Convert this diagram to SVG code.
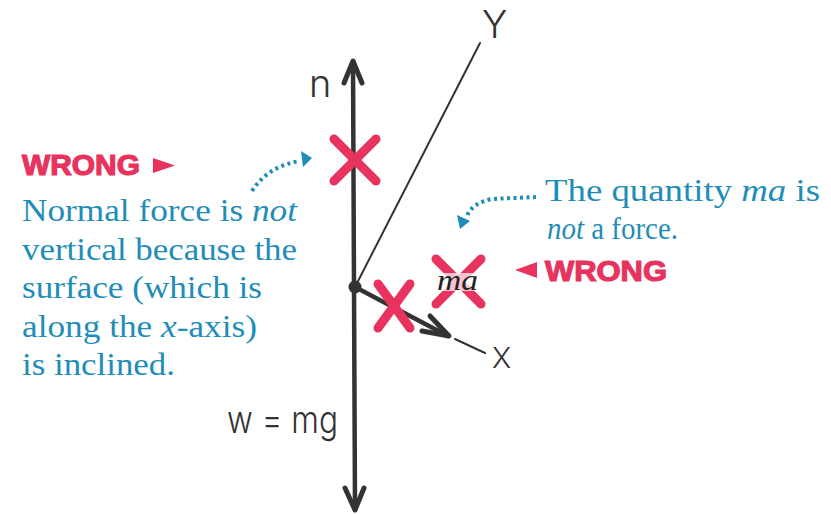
<svg xmlns="http://www.w3.org/2000/svg" width="831" height="514" viewBox="0 0 831 514">
<style>
.hand{font-family:Inter,"Liberation Sans",sans-serif;font-weight:300;fill:#333}
.blue{font-family:"Liberation Serif",serif;font-size:31px;fill:#1e8db8}
.wrong{font-family:"Liberation Sans Narrow","Liberation Sans",sans-serif;font-weight:bold;font-size:29px;fill:#e8335f;stroke:#e8335f;stroke-width:1.2}
.x{stroke:#e8335f;stroke-width:9;stroke-linecap:round;fill:none}
.dots{stroke:#1e8db8;stroke-width:4;stroke-dasharray:3 3.5;fill:none}
.force{stroke:#333;fill:none;stroke-linecap:round;stroke-linejoin:round}
</style>
<rect width="831" height="514" fill="#fff"/>
<g id="connectors">
  <line class="force" x1="353" y1="62" x2="355" y2="510" stroke-width="4.5"/>
  <polyline class="force" points="344,83 353,61 362,83" stroke-width="5"/>
  <polyline class="force" points="345,488 355,510 364,488" stroke-width="5"/>
  <line class="force" x1="355" y1="287" x2="480" y2="43" stroke-width="2"/>
  <line class="force" x1="355" y1="287" x2="448" y2="336" stroke-width="4.5"/>
  <polyline class="force" points="430,316 449,336 422,331" stroke-width="5"/>
  <line class="force" x1="455" y1="339" x2="485" y2="353" stroke-width="2"/>
  <circle cx="355" cy="287" r="6.5" fill="#333"/>
  <path class="dots" d="M252,191 Q268,166 300,161"/>
  <polygon points="312,158 301,151 303,167" fill="#1e8db8"/>
  <path class="dots" d="M536,197 L492,199 Q472,203 467,216"/>
  <polygon points="460,229 457,215 470,221" fill="#1e8db8"/>
</g>
<g id="label-n"><text class="hand" x="309" y="97" font-size="38">n</text></g>
<g id="label-y"><text class="hand" x="482" y="38" font-size="38">Y</text></g>
<g id="label-x"><text class="hand" x="492" y="368" font-size="29">X</text></g>
<g id="label-w"><text class="hand" x="227" y="433" font-size="38" textLength="111" lengthAdjust="spacingAndGlyphs">w = mg</text></g>
<g id="wrong-n">
  <line class="x" x1="334" y1="139" x2="376" y2="181"/>
  <line class="x" x1="376" y1="139" x2="334" y2="181"/>
</g>
<g id="wrong-x">
  <line class="x" x1="378" y1="284" x2="410" y2="328"/>
  <line class="x" x1="410" y1="284" x2="378" y2="328"/>
</g>
<g id="wrong-ma">
  <line class="x" x1="436" y1="259" x2="481" y2="304"/>
  <line class="x" x1="481" y1="259" x2="436" y2="304"/>
  <rect x="438" y="273" width="42" height="18" fill="#fff" opacity="0.7"/>
  <text x="437" y="290" font-family="'Liberation Serif',serif" font-style="italic" font-size="30" fill="#222" textLength="41" lengthAdjust="spacingAndGlyphs">ma</text>
</g>
<g id="note-left">
  <text class="wrong" x="22" y="175" textLength="118" lengthAdjust="spacingAndGlyphs">WRONG</text>
  <polygon points="153,158 153,173 175,165.5" fill="#e8335f"/>
  <text class="blue" x="22" y="221" textLength="275" lengthAdjust="spacingAndGlyphs">Normal force is <tspan font-style="italic">not</tspan></text>
  <text class="blue" x="22" y="260" textLength="275" lengthAdjust="spacingAndGlyphs">vertical because the</text>
  <text class="blue" x="22" y="298" textLength="240" lengthAdjust="spacingAndGlyphs">surface (which is</text>
  <text class="blue" x="22" y="337" textLength="235" lengthAdjust="spacingAndGlyphs">along the <tspan font-style="italic">x</tspan>-axis)</text>
  <text class="blue" x="22" y="375" textLength="153" lengthAdjust="spacingAndGlyphs">is inclined.</text>
</g>
<g id="note-right">
  <text class="blue" x="545" y="201" textLength="275" lengthAdjust="spacingAndGlyphs">The quantity <tspan font-style="italic">ma</tspan> is</text>
  <text class="blue" x="547" y="239" textLength="131" lengthAdjust="spacingAndGlyphs"><tspan font-style="italic">not</tspan> a force.</text>
  <polygon points="515,270 537,262 537,278" fill="#e8335f"/>
  <text class="wrong" x="545" y="281" textLength="122" lengthAdjust="spacingAndGlyphs">WRONG</text>
</g>
</svg>
